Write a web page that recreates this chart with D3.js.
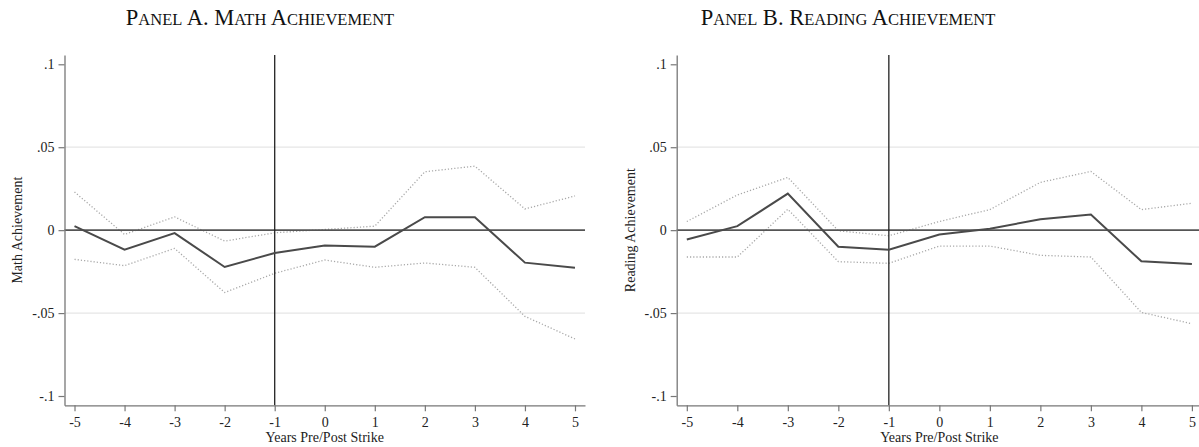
<!DOCTYPE html>
<html>
<head>
<meta charset="utf-8">
<script src="https://cdn.jsdelivr.net/npm/d3@7"></script>
<style>
  body { margin: 0; background: #fff; }
  svg { display: block; font-family: "Liberation Serif", "DejaVu Serif", serif; }
</style>
</head>
<body>
<div id="plot"></div>
<script>
// values
var years = [-5, -4, -3, -2, -1, 0, 1, 2, 3, 4, 5];

var mathCoef  = [0.0024, -0.0118, -0.0018, -0.0222, -0.0138, -0.0092, -0.0100, 0.0078, 0.0078, -0.0196, -0.0226];
var mathUpper = [0.0230, -0.0026, 0.0080, -0.0066, -0.0016, 0.0004, 0.0024, 0.0352, 0.0386, 0.0128, 0.0206];
var mathLower = [-0.0176, -0.0214, -0.0110, -0.0376, -0.0260, -0.0180, -0.0224, -0.0198, -0.0224, -0.0520, -0.0656];

var readCoef  = [-0.0056, 0.0024, 0.0220, -0.0100, -0.0118, -0.0026, 0.0008, 0.0066, 0.0094, -0.0188, -0.0204];
var readUpper = [0.0052, 0.0212, 0.0318, -0.0004, -0.0034, 0.0052, 0.0124, 0.0288, 0.0354, 0.0124, 0.0162];
var readLower = [-0.0162, -0.0162, 0.0126, -0.0190, -0.0200, -0.0096, -0.0096, -0.0152, -0.0162, -0.0496, -0.0564];

var yTicks = [-0.1, -0.05, 0, 0.05, 0.1];
var yTickLabels = ["-.1", "-.05", "0", ".05", ".1"];
var gridTicks = [-0.05, 0.05];

var panels = [
  { title: ["Panel", "A.", "Math", "Achievement"], titleX: 260, ylab: "Math Achievement", ylabX: 22,
    left: 64.5, right: 585, coef: mathCoef, upper: mathUpper, lower: mathLower },
  { title: ["Panel", "B.", "Reading", "Achievement"], titleX: 848, ylab: "Reading Achievement", ylabX: 635,
    left: 676.7, right: 1202, coef: readCoef, upper: readUpper, lower: readLower }
];

var W = 1199, H = 447, plotTop = 55, plotBottom = 405.3;

var svg = d3.select("#plot")
  .append("svg")
    .attr("width", W)
    .attr("height", H);

var y = d3.scaleLinear()
    .domain([-0.1056, 0.1056])
    .range([plotBottom, plotTop]);

panels.forEach(function(p) {
  var x = d3.scaleLinear()
      .domain([-5.2, 5.2])
      .range([p.left, p.right]);

  var g = svg.append("g");

  // light grid at +-.05
  g.selectAll("line.grid")
    .data(gridTicks)
    .enter()
    .append("line")
      .attr("class", "grid")
      .attr("x1", p.left).attr("x2", p.right)
      .attr("y1", function(d) { return y(d); })
      .attr("y2", function(d) { return y(d); })
      .style("stroke", "#e6e6e6")
      .style("stroke-width", 1.2);

  // confidence bands
  var line = function(vals) {
    return d3.line()
      .x(function(d, i) { return x(years[i]); })
      .y(function(d) { return y(d); })(vals);
  };
  [p.upper, p.lower].forEach(function(vals) {
    g.append("path")
      .attr("d", line(vals))
      .style("fill", "none")
      .style("stroke", "#a8a8a8")
      .style("stroke-width", 1.3)
      .style("stroke-dasharray", "1.2,2");
  });

  // zero line
  g.append("line")
    .attr("x1", p.left).attr("x2", p.right)
    .attr("y1", y(0)).attr("y2", y(0))
    .style("stroke", "#555")
    .style("stroke-width", 1.6);

  // strike year marker
  g.append("line")
    .attr("x1", x(-1)).attr("x2", x(-1))
    .attr("y1", plotTop).attr("y2", plotBottom)
    .style("stroke", "#222")
    .style("stroke-width", 1.3);

  // estimates
  g.append("path")
    .attr("d", line(p.coef))
    .style("fill", "none")
    .style("stroke", "#4a4a4a")
    .style("stroke-width", 2);

  // axes
  var xAxis = g.append("g")
    .attr("transform", "translate(0," + plotBottom + ")")
    .call(d3.axisBottom(x).tickValues(years)
      .tickFormat(function(d) { return String(d); })
      .tickSize(6).tickSizeOuter(0).tickPadding(5.5));
  var yAxis = g.append("g")
    .attr("transform", "translate(" + p.left + ",0)")
    .call(d3.axisLeft(y).tickValues(yTicks)
      .tickFormat(function(d, i) { return yTickLabels[i]; })
      .tickSize(6).tickSizeOuter(0).tickPadding(4));

  [xAxis, yAxis].forEach(function(a) {
    a.select(".domain").style("stroke", "#777").style("stroke-width", 1.3);
    a.selectAll(".tick line").style("stroke", "#777").style("stroke-width", 1.2);
    a.selectAll("text")
      .style("font-family", "Liberation Serif")
      .style("font-size", "14px")
      .style("fill", "#222");
  });

  // axis titles
  g.append("text")
    .attr("x", (p.left + p.right) / 2)
    .attr("y", 442)
    .attr("text-anchor", "middle")
    .style("font-size", "14px")
    .style("fill", "#222")
    .text("Years Pre/Post Strike");

  g.append("text")
    .attr("transform", "translate(" + p.ylabX + "," + y(0) + ") rotate(-90)")
    .attr("text-anchor", "middle")
    .style("font-size", "14px")
    .style("fill", "#222")
    .text(p.ylab);

  // panel title in small caps
  var t = g.append("text")
    .attr("x", p.titleX)
    .attr("y", 25)
    .attr("text-anchor", "middle")
    .style("fill", "#111");
  p.title.forEach(function(word, i) {
    t.append("tspan")
      .style("font-size", "22.5px")
      .text((i > 0 ? " " : "") + word.charAt(0));
    if (word.length > 1) {
      t.append("tspan")
        .style("font-size", word.slice(1) === "." ? "22.5px" : "16.5px")
        .text(word.slice(1).toUpperCase());
    }
  });
});
</script>
</body>
</html>
